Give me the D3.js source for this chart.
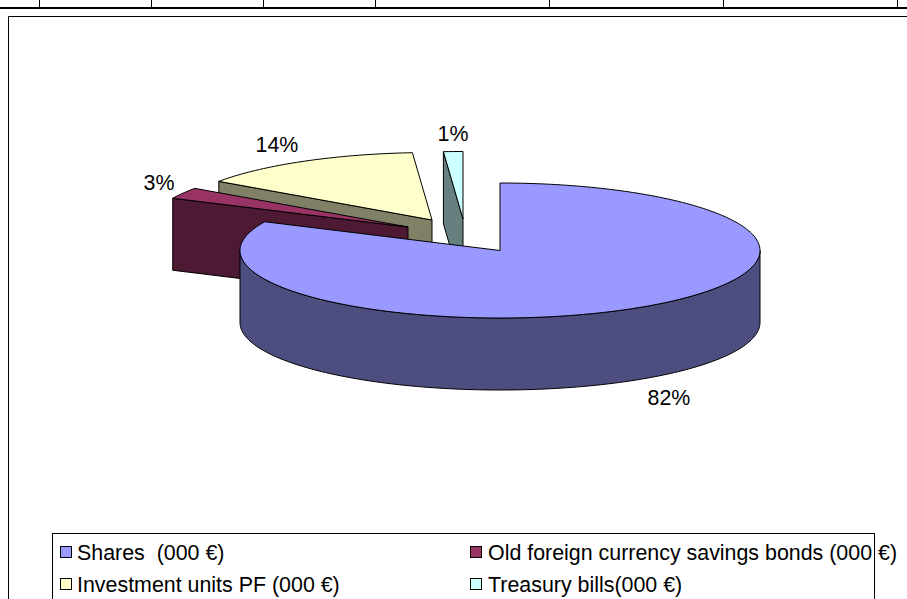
<!DOCTYPE html>
<html>
<head>
<meta charset="utf-8">
<style>
  html, body { margin: 0; padding: 0; background: #fff; overflow: hidden; }
  text { font-family: "Liberation Sans", Arial, sans-serif; fill: #000; }
</style>
<script src="https://cdn.jsdelivr.net/npm/d3@7"></script>
</head>
<body>
<div id="chart"></div>
<script>
// chart data, shares (labels show them rounded)
var categories = ['Shares  (000 €)', 'Old foreign currency savings bonds (000 €)', 'Investment units PF (000 €)', 'Treasury bills(000 €)'];
var shares = [82, 2.7, 14.1, 1.2];
var tableColumnEnds = [39, 151, 263, 375, 549, 723, 897];

var width = 907, height = 599;
var topColors = ['#9999ff', '#993366', '#ffffcc', '#ccffff'];
var sideColors = ['#4d4d80', '#4d1933', '#808066', '#668080'];

var rx = 260, ry = 67.5, depth = 72;
// slice centres, each one pulled out by hand like in the original
var centers = [[500, 250.5], [408, 227], [432, 220], [463, 219]];
var labelPos = [[669, 398], [159, 183], [277, 145], [453, 134]];

var svg = d3.select('#chart').append('svg')
  .attr('width', width)
  .attr('height', height)
  .style('display', 'block');

// bit of the table above the chart
svg.append('line').attr('x1', 0).attr('x2', width).attr('y1', 8).attr('y2', 8)
  .attr('stroke', '#000').attr('stroke-width', 2);
svg.selectAll('.col').data(tableColumnEnds).enter().append('line')
  .attr('class', 'col')
  .attr('x1', function(d) { return d + 0.5; })
  .attr('x2', function(d) { return d + 0.5; })
  .attr('y1', 0).attr('y2', 8)
  .attr('stroke', '#000');

// chart frame, runs off the page on the right and bottom
svg.append('path')
  .attr('d', 'M8.5,' + height + 'V16.5H' + width)
  .attr('fill', 'none')
  .attr('stroke', '#000');

var pie = d3.pie().sort(null).value(function(d) { return d; });
var arcs = pie(shares);

var line = d3.line();
function point(c, a, dy) {
  return [c[0] + rx * Math.sin(a), c[1] - ry * Math.cos(a) + (dy || 0)];
}
function sample(a0, a1) {
  var n = Math.max(2, Math.ceil(Math.abs(a1 - a0) / 0.02));
  return d3.range(n + 1).map(function(i) { return a0 + (a1 - a0) * i / n; });
}
function topFace(c, a0, a1) {
  return line([c].concat(sample(a0, a1).map(function(a) { return point(c, a); }))) + 'Z';
}
function rimFace(c, a0, a1) {
  var s = sample(a0, a1);
  var upper = s.map(function(a) { return point(c, a); });
  var lower = s.reverse().map(function(a) { return point(c, a, depth); });
  return line(upper.concat(lower)) + 'Z';
}
function cutFace(c, a) {
  var p = point(c, a);
  return line([c, p, [p[0], p[1] + depth], [c[0], c[1] + depth]]) + 'Z';
}

// back to front: treasury, investment, bonds, shares
[3, 2, 1, 0].forEach(function(i) {
  var d = arcs[i], c = centers[i];
  var g = svg.append('g').attr('stroke', '#000').attr('stroke-width', 1).attr('stroke-linejoin', 'round');
  if (i === 0) {
    // front rim, only the part from 3 to 9 o'clock shows
    g.append('path').attr('d', rimFace(c, Math.PI / 2, Math.PI * 1.5)).attr('fill', sideColors[i]);
  } else {
    g.append('path').attr('d', cutFace(c, d.startAngle)).attr('fill', sideColors[i]);
  }
  g.append('path').attr('d', topFace(c, d.startAngle, d.endAngle)).attr('fill', topColors[i]);
});

svg.selectAll('.pct').data(shares).enter().append('text')
  .attr('class', 'pct')
  .attr('x', function(d, i) { return labelPos[i][0]; })
  .attr('y', function(d, i) { return labelPos[i][1]; })
  .attr('dy', '0.35em')
  .attr('text-anchor', 'middle')
  .attr('font-size', 21.4)
  .text(function(d) { return Math.round(d) + '%'; });

// legend, cut off by the bottom of the page
var legendX = d3.scaleOrdinal().domain([0, 1]).range([60, 470]);
var legendY = d3.scaleOrdinal().domain([0, 1]).range([552, 584]);

svg.append('rect')
  .attr('x', 52.5).attr('y', 533.5)
  .attr('width', 822).attr('height', 100)
  .attr('fill', '#fff').attr('stroke', '#000');

var items = svg.selectAll('.legend-item').data(categories).enter().append('g')
  .attr('class', 'legend-item')
  .attr('transform', function(d, i) {
    return 'translate(' + legendX(i % 2) + ',' + legendY(Math.floor(i / 2)) + ')';
  });
items.append('rect')
  .attr('x', 0.5).attr('y', -5.5)
  .attr('width', 11).attr('height', 11)
  .attr('fill', function(d, i) { return topColors[i]; })
  .attr('stroke', '#000');
items.append('text')
  .attr('x', function(d, i) { return i % 2 ? 18 : 17; })
  .attr('dy', '0.35em')
  .attr('font-size', 21.4)
  .attr('xml:space', 'preserve')
  .style('white-space', 'pre')
  .text(function(d) { return d; });
</script>
</body>
</html>
